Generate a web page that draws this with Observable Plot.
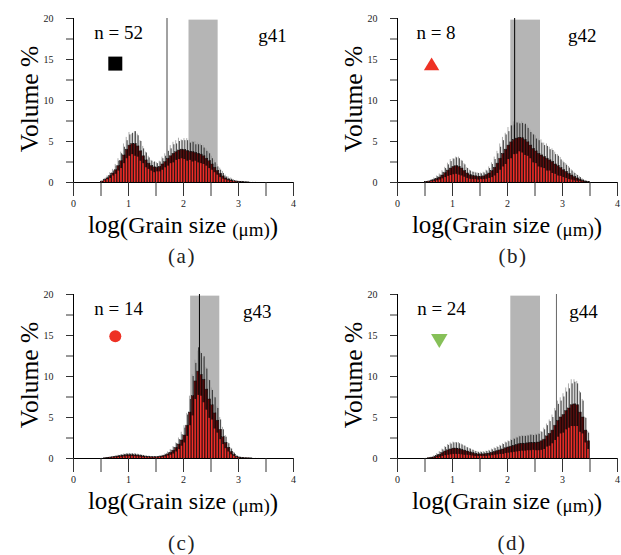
<!DOCTYPE html>
<html>
<head>
<meta charset="utf-8">
<script src="https://cdn.jsdelivr.net/npm/d3@7"></script>
<script src="https://cdn.jsdelivr.net/npm/@observablehq/plot@0.6"></script>
<style>
  body { margin: 0; background: #fff; overflow: hidden; }
  #chart { position: relative; width: 621px; height: 555px; }
  #chart svg { position: absolute; overflow: visible; }
</style>
</head>
<body>
<div id="chart"></div>
<script>
// Grain-size histograms: bins of 0.05 log-units starting at log(d) = 0.5
const binStart = 0.5;
const binWidth = 0.05;

// g41 — mean volume %, standard deviation, and spread of the second error series
const meanA = [0.1,0.3,0.5,0.8,1.1,1.5,2.0,2.6,3.3,4.0, 4.5,4.7,4.7,4.4,3.8,3.2,2.7,2.3,2.0,1.85, 1.8,1.9,2.2,2.5,2.9,3.2,3.5,3.7,3.9,4.0, 3.95,3.85,3.75,3.7,3.6,3.5,3.4,3.2,2.9,2.6, 2.2,1.8,1.4,1.05,0.75,0.5,0.35,0.25,0.15,0.1, 0.06,0.04,0.02,0.01,0,0,0,0,0,0];
const sdA   = [0.05,0.1,0.15,0.3,0.3,0.5,0.6,0.9,1.0,1.1, 1.3,1.3,1.5,1.3,1.2,0.9,0.9,0.7,0.6,0.65, 0.5,0.6,0.7,0.7,0.9,0.9,1.1,1.0,1.1,1.1, 1.15,1.25,1.05,1.2,1.0,1.1,1.1,1.0,0.9,0.9, 0.7,0.6,0.5,0.45,0.35,0.2,0.15,0.15,0.05,0.05, 0.04,0.03,0.02,0.01,0,0,0,0,0,0];
const grayA = [0.1,0.2,0.3,0.4,0.5,0.7,0.9,1.1,1.4,1.5, 1.6,1.2,1.5,1.5,1.3,1.2,1.0,0.9,0.7,0.6, 0.6,0.7,0.9,1.0,1.1,1.3,1.4,1.4,1.5,1.2, 1.4,1.5,1.4,1.3,1.4,1.3,1.3,1.3,1.2,1.1, 1.0,0.9,0.8,0.7,0.6,0.4,0.35,0.3,0.2,0.15, 0.1,0.1,0.08,0.05,0.04,0.03,0.02,0,0,0];

// g42
const meanB = [0.05,0.1,0.2,0.3,0.45,0.6,0.85,1.15,1.45,1.7, 1.9,2.0,1.9,1.7,1.4,1.1,0.9,0.8,0.75,0.7, 0.7,0.75,0.9,1.1,1.4,1.8,2.3,2.9,3.5,4.0, 4.5,4.9,5.2,5.35,5.45,5.4,5.2,4.9,4.5,4.1, 3.8,3.5,3.3,3.1,2.9,2.7,2.5,2.2,2.0,1.75, 1.5,1.3,1.05,0.85,0.65,0.5,0.35,0.2,0.1,0.05];
const sdB   = [0.03,0.05,0.1,0.15,0.25,0.3,0.4,0.55,0.7,0.85, 0.95,1.0,1.0,0.9,0.75,0.6,0.5,0.45,0.4,0.4, 0.35,0.4,0.5,0.6,0.8,1.0,1.2,1.4,1.6,1.8, 1.7,2.0,1.8,1.9,1.7,1.8,1.9,1.7,1.6,1.7, 1.5,1.6,1.5,1.4,1.5,1.3,1.4,1.2,1.2,1.0, 0.9,0.8,0.7,0.55,0.45,0.35,0.25,0.15,0.08,0.04];
const grayB = [0.05,0.1,0.15,0.25,0.35,0.45,0.6,0.7,0.9,1.1, 1.0,1.1,1.2,1.0,0.9,0.7,0.6,0.5,0.5,0.45, 0.45,0.5,0.6,0.8,1.0,1.3,1.5,1.8,2.0,2.0, 2.2,2.0,2.2,2.0,1.9,2.0,1.8,2.0,1.9,1.8, 1.9,1.8,1.9,1.7,1.8,1.6,1.6,1.5,1.4,1.3, 1.1,1.0,0.9,0.7,0.6,0.45,0.35,0.25,0.15,0.08];

// g43
const meanC = [0,0.02,0.05,0.1,0.15,0.2,0.25,0.3,0.35,0.4, 0.4,0.4,0.38,0.35,0.3,0.25,0.2,0.18,0.15,0.15, 0.15,0.2,0.25,0.35,0.5,0.7,0.95,1.3,1.7,2.2, 2.8,4.0,5.6,7.6,9.4,10.6,10.2,9.6,8.4,7.2, 6.5,5.5,4.6,3.5,2.6,1.9,1.3,0.8,0.45,0.2, 0.1,0.05,0.03,0.02,0.01,0,0,0,0,0];
const sdC   = [0,0.01,0.03,0.05,0.07,0.1,0.12,0.14,0.15,0.17, 0.18,0.17,0.16,0.15,0.13,0.11,0.09,0.08,0.07,0.07, 0.07,0.09,0.11,0.15,0.2,0.3,0.4,0.5,0.6,0.7, 0.9,1.3,1.6,2.4,2.2,2.9,2.6,2.8,2.5,2.3, 1.8,1.9,1.5,1.2,0.9,0.7,0.5,0.35,0.2,0.1, 0.05,0.03,0.02,0.01,0.01,0,0,0,0,0];
const grayC = [0.02,0.03,0.05,0.08,0.1,0.12,0.15,0.17,0.2,0.2, 0.22,0.2,0.2,0.18,0.16,0.14,0.12,0.1,0.09,0.09, 0.1,0.12,0.15,0.2,0.3,0.4,0.5,0.6,0.8,1.0, 1.2,1.5,2.0,2.6,2.6,2.5,2.8,2.6,2.7,2.4, 2.1,2.0,1.7,1.5,1.2,0.9,0.6,0.45,0.3,0.15, 0.1,0.08,0.06,0.05,0.04,0.03,0.02,0.01,0,0];

// g44
const meanD = [0,0.03,0.08,0.15,0.3,0.45,0.65,0.85,1.0,1.1, 1.2,1.2,1.15,1.05,0.95,0.85,0.75,0.65,0.55,0.5, 0.5,0.5,0.55,0.6,0.7,0.8,0.9,1.0,1.1,1.25, 1.35,1.45,1.55,1.65,1.75,1.8,1.8,1.85,1.9,1.9, 1.9,1.95,2.1,2.3,2.7,3.0,3.4,4.0,4.6,5.0, 5.3,5.8,6.1,6.5,6.6,6.5,5.6,5.0,3.4,2.1];
const sdD   = [0,0.02,0.05,0.1,0.2,0.3,0.4,0.5,0.6,0.65, 0.7,0.7,0.65,0.6,0.55,0.45,0.4,0.35,0.3,0.25, 0.25,0.25,0.3,0.3,0.35,0.4,0.45,0.5,0.6,0.65, 0.7,0.75,0.8,0.85,0.9,0.9,0.9,0.9,0.95,0.9, 0.95,1.0,1.1,1.2,1.3,1.5,1.6,1.8,2.0,2.0, 2.2,2.3,2.4,2.6,2.7,2.6,2.4,2.0,1.5,1.0];
const grayD = [0.02,0.05,0.1,0.2,0.3,0.4,0.5,0.6,0.7,0.8, 0.8,0.75,0.8,0.7,0.6,0.5,0.45,0.4,0.35,0.3, 0.3,0.35,0.35,0.4,0.45,0.5,0.55,0.6,0.7,0.75, 0.8,0.85,0.9,0.95,1.0,1.0,0.95,1.0,1.0,1.0, 1.1,1.1,1.2,1.4,1.5,1.7,1.9,2.1,2.4,2.4, 2.6,2.8,3.0,3.1,3.0,2.9,2.6,2.2,1.6,1.2];

// Per-panel annotations
const groupNames   = ["g41", "g42", "g43", "g44"];
const panelTags    = ["(a)", "(b)", "(c)", "(d)"];
const sampleCounts = [52, 8, 14, 24];
const cutLines     = [1.70, 2.13, 2.29, 2.89];          // vertical reference line, log units
const bandLo       = [2.10, 2.06, 2.13, 2.06];          // shaded interval, log units
const bandHi       = [2.63, 2.60, 2.66, 2.60];
const bandTop      = 19.8;

// Axis ticks
const xTicks = [0, 0.5, 1, 1.5, 2, 2.5, 3, 3.5, 4];
const xTickLabels = [0, 1, 2, 3, 4];
const yTicks = [0, 2.5, 5, 7.5, 10, 12.5, 15, 17.5, 20];
const yTickLabels = [0, 5, 10, 15, 20];

// Marker glyphs (drawn with d3 path contexts; r = sqrt(size / PI))
const squareSym = { draw(ctx, size) { const r = Math.sqrt(size / Math.PI); ctx.rect(-r, -r, 2 * r, 2 * r); } };
const triUpSym = { draw(ctx, size) { const r = Math.sqrt(size / Math.PI); ctx.moveTo(0, -r); ctx.lineTo(r * 1.1, r * 0.85); ctx.lineTo(-r * 1.1, r * 0.85); ctx.closePath(); } };
const triDownSym = { draw(ctx, size) { const r = Math.sqrt(size / Math.PI); ctx.moveTo(0, r); ctx.lineTo(r * 1.1, -r * 0.85); ctx.lineTo(-r * 1.1, -r * 0.85); ctx.closePath(); } };
const circleSym = { draw(ctx, size) { const r = Math.sqrt(size / Math.PI); ctx.moveTo(r, 0); ctx.arc(0, 0, r, 0, 2 * Math.PI); } };

const series = [
  { mean: meanA, sd: sdA, gray: grayA },
  { mean: meanB, sd: sdB, gray: grayB },
  { mean: meanC, sd: sdC, gray: grayC },
  { mean: meanD, sd: sdD, gray: grayD }
];

// Layout of each panel: page offset, text placement, marker style
const layout = [
  { left: 0,   top: 0,   nX: 0.82, gX: 3.62, tagX: 182, tagY: 263, cutColor: "#444", mark: { x: 0.76, y: 14.5, sym: squareSym,  r: 7,   fill: "#000" } },
  { left: 324, top: 0,   nX: 0.70, gX: 3.36, tagX: 189, tagY: 263, cutColor: "#000", mark: { x: 0.62, y: 14.4, sym: triUpSym,   r: 7,   fill: "#ee3124" } },
  { left: 0,   top: 276, nX: 0.82, gX: 3.34, tagX: 182, tagY: 274, cutColor: "#000", mark: { x: 0.76, y: 14.9, sym: circleSym,  r: 6,   fill: "#ee3124" } },
  { left: 324, top: 276, nX: 0.80, gX: 3.38, tagX: 188, tagY: 274, cutColor: "#666", mark: { x: 0.76, y: 14.4, sym: triDownSym, r: 7.5, fill: "#86c058" } }
];

const serif = "'Liberation Serif', 'Times New Roman', serif";
const chart = document.getElementById("chart");

series.forEach((s, k) => {
  const rows = s.mean.map((m, i) => ({
    x1: binStart + i * binWidth,
    x2: binStart + (i + 1) * binWidth,
    xm: binStart + (i + 0.5) * binWidth,
    mean: m,
    sd: s.sd[i],
    gray: s.gray[i]
  }));
  const L = layout[k];

  const svg = Plot.plot({
    width: 300,
    height: 277,
    marginLeft: 73,
    marginRight: 7,
    marginTop: 18,
    marginBottom: 95,
    x: { domain: [0, 4] },
    y: { domain: [0, 20] },
    style: { fontFamily: serif, fontSize: "10px", color: "#222", background: "transparent" },
    marks: [
      // shaded interval
      Plot.rect([[bandLo[k], bandHi[k]]], { x1: d => d[0], x2: d => d[1], y1: 0, y2: bandTop, fill: "#b5b5b5" }),
      // vertical reference line
      Plot.ruleX([cutLines[k]], { y1: 0, y2: 20, stroke: L.cutColor, strokeWidth: 1 }),
      // mean histogram
      Plot.rect(rows.filter(d => d.mean > 0), { x1: "x1", x2: "x2", y1: 0, y2: "mean", fill: "#6b0f0f", stroke: "#111", strokeWidth: 0.6 }),
      // mean − sd
      Plot.rect(rows.filter(d => d.mean - d.sd > 0), { x1: "x1", x2: "x2", y1: 0, y2: d => d.mean - d.sd, fill: "#f0302b", insetLeft: 0.5, insetRight: 0.9 }),
      // second error series (grey)
      Plot.ruleX(rows.filter(d => d.gray > 0), { x: "xm", y1: "mean", y2: d => d.mean + d.gray, stroke: "#999", strokeWidth: 0.8, dx: -0.9 }),
      // ± sd error bars
      Plot.ruleX(rows.filter(d => d.sd > 0), { x: "xm", y1: d => d.mean - d.sd, y2: d => d.mean + d.sd, stroke: "#000", strokeWidth: 0.75 }),
      // axis lines
      Plot.ruleY([0], { x1: 0, x2: 4, stroke: "#000", strokeWidth: 1 }),
      Plot.ruleX([0], { y1: 0, y2: 20, stroke: "#000", strokeWidth: 1 }),
      Plot.axisX({ ticks: xTicks, tickSize: 14, tickPadding: 3, tickFormat: d => xTickLabels.includes(d) ? d : "", label: null, stroke: "#333" }),
      Plot.axisY({ ticks: yTicks, tickSize: 7, tickPadding: 13, tickFormat: d => yTickLabels.includes(d) ? d : "", label: null, stroke: "#333" }),
      // annotations
      Plot.text([`n = ${sampleCounts[k]}`], { x: L.nX, y: 18.3, fontSize: 19, fontFamily: serif, fill: "#000" }),
      Plot.text([groupNames[k]], { x: L.gX, y: 17.9, fontSize: 19, fontFamily: serif, fill: "#000" }),
      Plot.dot([0], { x: L.mark.x, y: L.mark.y, r: L.mark.r, symbol: L.mark.sym, fill: L.mark.fill, stroke: "none" })
    ]
  });

  svg.style.left = L.left + "px";
  svg.style.top = L.top + "px";

  const g = d3.select(svg);
  // y-axis title
  g.append("text")
    .attr("transform", "translate(38,99) rotate(-90)")
    .attr("text-anchor", "middle")
    .attr("font-family", serif)
    .attr("font-size", 25.5)
    .attr("fill", "#000")
    .text("Volume %");
  // x-axis title
  const xt = g.append("text")
    .attr("x", 183)
    .attr("y", 233)
    .attr("text-anchor", "middle")
    .attr("font-family", serif)
    .attr("fill", "#000");
  xt.append("tspan").attr("font-size", 25).text("log");
  xt.append("tspan").attr("font-size", 25).attr("dy", 2).text("(");
  xt.append("tspan").attr("font-size", 24).attr("dy", -2).text("Grain size ");
  xt.append("tspan").attr("font-size", 19).attr("dy", 3).text("(μm)");
  xt.append("tspan").attr("font-size", 25).attr("dy", -1).text(")");
  // panel tag
  g.append("text")
    .attr("x", L.tagX)
    .attr("y", L.tagY)
    .attr("text-anchor", "middle")
    .attr("font-family", serif)
    .attr("font-size", 21)
    .attr("letter-spacing", 1.5)
    .attr("fill", "#222")
    .text(panelTags[k]);

  chart.appendChild(svg);
});
</script>
</body>
</html>
